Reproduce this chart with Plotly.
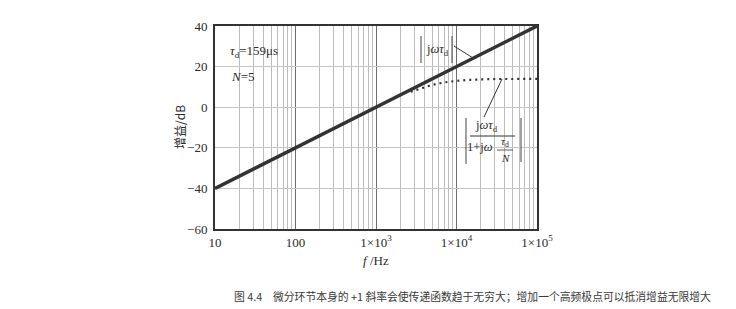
import plotly.graph_objects as go

# ---- data ----
freq_solid = [10, 100, 1000, 10000, 100000]
gain_solid = [-40, -20, 0, 20, 40]

freq_dot = [2700, 3000, 4000, 5000, 7000, 10000, 15000, 20000, 30000, 50000, 70000, 100000]
gain_dot = [7.6, 8.2, 9.9, 11.0, 12.2, 13.0, 13.5, 13.7, 13.9, 13.9, 14.0, 14.0]

x_tickvals = [10, 100, 1000, 10000, 100000]
x_ticktext = ["10", "100", "1×10<sup>3</sup>", "1×10<sup>4</sup>", "1×10<sup>5</sup>"]
y_tickvals = [-60, -40, -20, 0, 20, 40]

# ---- layout geometry (pixels) ----
W, H = 736, 309
L, R, T, B = 215, 537, 26, 229

def px(x):
    return (x - L) / (R - L)

def py(y):
    return (B - y) / (B - T)

SERIF = "Liberation Serif"
INK = "#2b2b2b"

fig = go.Figure()
fig.add_trace(go.Scatter(x=freq_solid, y=gain_solid, mode="lines",
                         line=dict(color="#333333", width=3.5), showlegend=False))
fig.add_trace(go.Scatter(x=freq_dot, y=gain_dot, mode="lines",
                         line=dict(color="#333333", width=2.2, dash="2px,4px"), showlegend=False))

fig.update_layout(
    width=W, height=H,
    margin=dict(l=L, r=W - R, t=T, b=H - B),
    paper_bgcolor="white", plot_bgcolor="white",
    font=dict(family=SERIF, size=13, color=INK),
    xaxis=dict(type="log", range=[1, 5], tickvals=x_tickvals, ticktext=x_ticktext,
               showgrid=True, gridcolor="#6e6e6e", gridwidth=1.2,
               minor=dict(dtick="D1", showgrid=True, gridcolor="#bdbdbd", gridwidth=1, ticks=""),
               showline=True, linecolor="#333", linewidth=2, mirror=True,
               ticks="", tickfont=dict(family=SERIF, size=13, color=INK), zeroline=False),
    yaxis=dict(range=[-60, 40], tickvals=y_tickvals,
               ticktext=["−60", "−40", "−20", "0", "20", "40"],
               showgrid=True, gridcolor="#c4c4c4", gridwidth=1,
               showline=True, linecolor="#333", linewidth=2, mirror=True,
               ticks="", ticklabelstandoff=3,
               tickfont=dict(family=SERIF, size=13, color=INK), zeroline=False),
)

ann = []
def text(x, y, s, size=13, xanchor="center", family=SERIF, color=INK):
    ann.append(dict(xref="paper", yref="paper", x=px(x), y=py(y), text=s, showarrow=False,
                    xanchor=xanchor, yanchor="middle", font=dict(family=family, size=size, color=color)))

# parameter labels
text(228, 52, "<i>τ</i><sub>d</sub>=159μs", xanchor="left")
text(229, 76, "<i>N</i>=5", xanchor="left")

# |jωτd| label
text(437, 50, "j<i>ωτ</i><sub>d</sub>", size=12.5)

# fraction label
text(486, 126, "j<i>ωτ</i><sub>d</sub>", size=12.5)
text(480, 147, "1+j<i>ω</i>", size=12.5)
text(505, 142, "<i>τ</i><sub>d</sub>", size=11)
text(505, 158, "<i>N</i>", size=11)

# axis titles
text(376, 260, "<i>f</i> /Hz")
ann.append(dict(xref="paper", yref="paper", x=px(180), y=py(127), text="增益/dB", showarrow=False,
                textangle=-90, xanchor="center", yanchor="middle",
                font=dict(family="Noto Sans CJK SC", size=12, color=INK)))

# caption
text(232, 296, "图 4.4　微分环节本身的 +1 斜率会使传递函数趋于无穷大；增加一个高频极点可以抵消增益无限增大",
     size=10.8, xanchor="left", family="Noto Sans CJK SC", color="#3a3a3a")

fig.update_layout(annotations=ann)

shapes = []
def seg(x0, y0, x1, y1, w=1.0, color="#333"):
    shapes.append(dict(type="line", xref="paper", yref="paper",
                       x0=px(x0), y0=py(y0), x1=px(x1), y1=py(y1),
                       line=dict(color=color, width=w)))

# bars for |jωτd|
seg(421, 36, 421, 63, 1.1, "#555")
seg(452, 36, 452, 63, 1.1, "#555")
# leader line
seg(454, 46, 473, 58, 1.0)
# bars for fraction
seg(466, 118, 466, 164, 1.1, "#555")
seg(521, 118, 521, 162, 1.1, "#555")
seg(470, 136, 515, 136, 1.0)
seg(497, 150, 513, 150, 0.8)
# leader line
seg(484, 117, 502, 79, 1.0)

fig.update_layout(shapes=shapes)

fig.write_html("out.html")
